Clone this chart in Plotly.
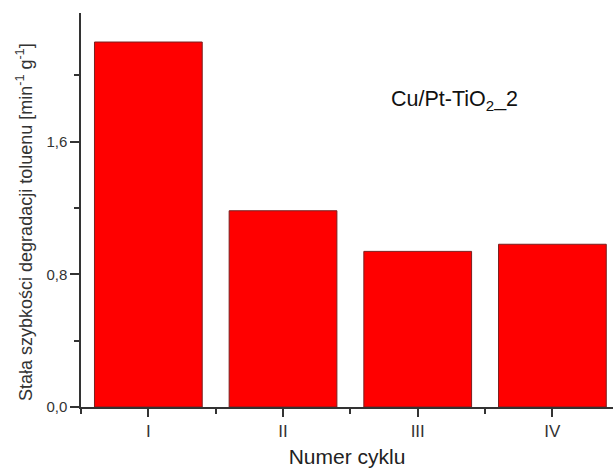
import plotly.graph_objects as go

categories = ["I", "II", "III", "IV"]
values = [2.20, 1.183, 0.938, 0.981]
y_ticks = [0.0, 0.8, 1.6]
y_minor_step = 0.4
x_minor_start = 0.5
y_title = "Stała szybkości degradacji toluenu [min<sup>-1</sup> g<sup>-1</sup>]"
x_title = "Numer cyklu"
label = "Cu/Pt-TiO<sub>2</sub>_2"

positions = list(range(len(categories)))

fig = go.Figure()
fig.add_trace(go.Bar(
    x=positions, y=values, width=0.8,
    marker=dict(color="#ff0000", line=dict(color="#7a2020", width=1)),
))

font_family = "Liberation Sans, Arial, sans-serif"
fig.update_layout(
    width=613, height=470,
    margin=dict(l=81, r=0, t=13, b=63),
    plot_bgcolor="white", paper_bgcolor="white",
    separators=", ",
    showlegend=False,
    font=dict(family=font_family, color="#333333", size=15),
)
fig.update_xaxes(
    range=[-0.5, 3.45], automargin=False,
    tickmode="array", tickvals=positions, ticktext=categories,
    ticks="outside", ticklen=8, tickwidth=1.5, tickcolor="#333",
    showline=True, linecolor="#333", linewidth=1.5,
    showgrid=False, zeroline=False,
    tickfont=dict(family=font_family, size=17, color="#333333"),
    minor=dict(tick0=x_minor_start, dtick=1, ticks="outside", ticklen=5, tickwidth=1.5, tickcolor="#333", showgrid=False),
    title=dict(text=x_title, font=dict(size=21, color="#222"), standoff=9),
)
fig.update_yaxes(
    range=[0, 2.375], automargin=False,
    tickmode="array", tickvals=y_ticks, tickformat=".1f",
    ticks="outside", ticklen=9, tickwidth=1.5, tickcolor="#333",
    showline=True, linecolor="#333", linewidth=1.5,
    showgrid=False, zeroline=False,
    tickfont=dict(family=font_family, size=15, color="#333333"),
    minor=dict(tick0=0, dtick=y_minor_step, ticks="outside", ticklen=5, tickwidth=1.5, tickcolor="#333", showgrid=False),
)
# y-axis title placed as a rotated annotation (slightly below plot centre, as in the reference)
fig.add_annotation(
    xref="paper", yref="paper", x=-0.105, y=0.47,
    text=y_title, textangle=-90, showarrow=False,
    xanchor="center", yanchor="middle",
    font=dict(size=18, color="#333", family=font_family),
)
fig.add_annotation(
    x=1.79, y=1.85, xref="x", yref="y",
    text=label, showarrow=False,
    xanchor="left", yanchor="middle",
    font=dict(size=21.5, color="#111", family=font_family),
)

fig.write_html("out.html", post_script="document.body.style.margin='0';",
               config={"displayModeBar": False})
